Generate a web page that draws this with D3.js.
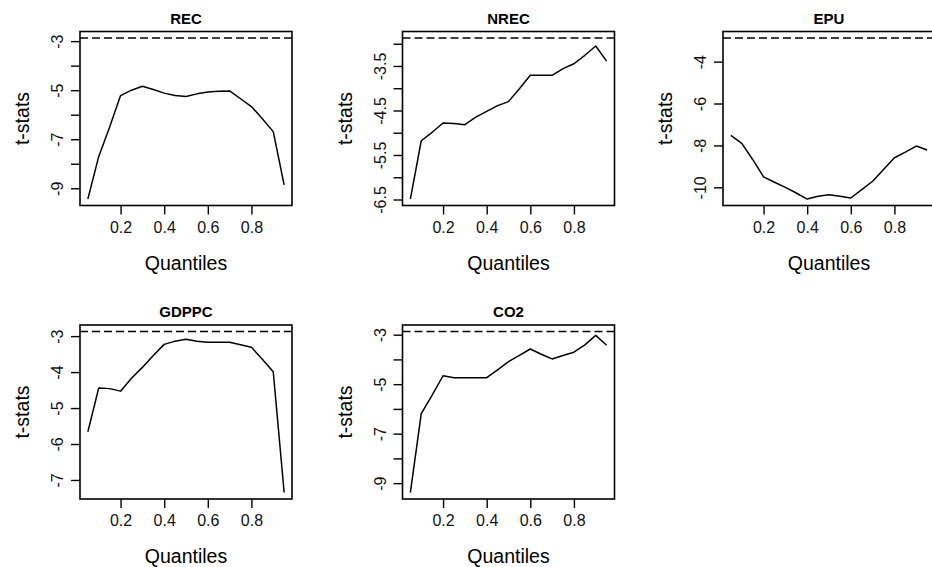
<!DOCTYPE html>
<html>
<head>
<meta charset="utf-8">
<script src="https://cdn.jsdelivr.net/npm/d3@7"></script>
<style>
  body { margin: 0; background: #ffffff; }
  svg { display: block; }
</style>
</head>
<body>
<div id="chart"></div>
<script>
// data

const quantiles = [0.05, 0.1, 0.15, 0.2, 0.25, 0.3, 0.35, 0.4, 0.45, 0.5,
  0.55, 0.6, 0.65, 0.7, 0.75, 0.8, 0.85, 0.9, 0.95];

const recStats = [-9.44, -7.7, -6.5, -5.22, -5.0, -4.84, -4.97, -5.12, -5.22, -5.26,
  -5.15, -5.07, -5.04, -5.03, -5.35, -5.67, -6.17, -6.69, -8.86];
const nrecStats = [-6.49, -5.18, -4.99, -4.78, -4.79, -4.82, -4.65, -4.52, -4.39, -4.3,
  -4.01, -3.71, -3.71, -3.71, -3.56, -3.45, -3.26, -3.05, -3.39];
const epuStats = [-7.52, -7.9, -8.67, -9.5, -9.76, -10.0, -10.27, -10.56, -10.43, -10.35,
  -10.43, -10.51, -10.11, -9.71, -9.15, -8.59, -8.32, -8.03, -8.22];
const gdppcStats = [-5.66, -4.44, -4.46, -4.53, -4.17, -3.87, -3.54, -3.23, -3.14, -3.09,
  -3.14, -3.17, -3.17, -3.17, -3.24, -3.31, -3.64, -3.99, -7.35];
const co2Stats = [-9.38, -6.19, -5.44, -4.66, -4.74, -4.74, -4.74, -4.74, -4.42, -4.09,
  -3.84, -3.58, -3.79, -3.98, -3.84, -3.71, -3.41, -3.03, -3.43];

const critValue = -2.87;

const panelNames = ["REC", "NREC", "EPU", "GDPPC", "CO2"];

const xTicks = [0.2, 0.4, 0.6, 0.8];
const recTicks = [-9, -8, -7, -6, -5, -4, -3];
const recLabels = [-9, -7, -5, -3];
const nrecTicks = [-6.5, -6, -5.5, -5, -4.5, -4, -3.5, -3];
const nrecLabels = [-6.5, -5.5, -4.5, -3.5];
const epuTicks = [-10, -8, -6, -4];
const epuLabels = [-10, -8, -6, -4];
const gdppcTicks = [-7, -6, -5, -4, -3];
const gdppcLabels = [-7, -6, -5, -4, -3];
const co2Ticks = [-9, -8, -7, -6, -5, -4, -3];
const co2Labels = [-9, -7, -5, -3];

// config

const width = 932;
const height = 567;
const boxW = 212;
const boxH = 174;
const colLeft = [80, 402.5, 723];
const rowTop = [31.5, 325];
const font = "'Liberation Sans', Arial, sans-serif";

const panels = [
  { name: panelNames[0], values: recStats, ticks: recTicks, labels: recLabels, col: 0, row: 0 },
  { name: panelNames[1], values: nrecStats, ticks: nrecTicks, labels: nrecLabels, col: 1, row: 0 },
  { name: panelNames[2], values: epuStats, ticks: epuTicks, labels: epuLabels, col: 2, row: 0 },
  { name: panelNames[3], values: gdppcStats, ticks: gdppcTicks, labels: gdppcLabels, col: 0, row: 1 },
  { name: panelNames[4], values: co2Stats, ticks: co2Ticks, labels: co2Labels, col: 1, row: 1 }
];

const svg = d3.select("#chart")
  .append("svg")
  .attr("width", width)
  .attr("height", height);

// R style 4% padding on both axes
function padded(lo, hi) {
  const r = hi - lo;
  return [lo - 0.04 * r, hi + 0.04 * r];
}

panels.forEach(p => {
  const left = colLeft[p.col];
  const top = rowTop[p.row];

  const xScale = d3.scaleLinear()
    .domain(padded(d3.min(quantiles), d3.max(quantiles)))
    .range([left, left + boxW]);

  const yMin = Math.min(d3.min(p.values), critValue);
  const yMax = Math.max(d3.max(p.values), critValue);
  const yScale = d3.scaleLinear()
    .domain(padded(yMin, yMax))
    .range([top + boxH, top]);

  const g = svg.append("g");

  // x axis
  g.append("g")
    .attr("transform", "translate(0, " + (top + boxH) + ")")
    .call(d3.axisBottom(xScale).tickValues(xTicks).tickSize(9).tickPadding(7)
      .tickFormat(d3.format(".1f")))
    .call(a => a.select(".domain").remove())
    .call(a => a.selectAll(".tick line").attr("stroke", "#000").attr("stroke-width", 1.4))
    .call(a => a.selectAll(".tick text")
      .attr("fill", "#111")
      .style("font-family", font)
      .style("font-size", "16px"));

  // y axis: ticks everywhere, labels only where R kept them
  g.append("g")
    .attr("transform", "translate(" + left + ", 0)")
    .call(d3.axisLeft(yScale).tickValues(p.ticks).tickSize(9)
      .tickFormat(d => p.labels.includes(d) ? String(d) : ""))
    .call(a => a.select(".domain").remove())
    .call(a => a.selectAll(".tick line").attr("stroke", "#000").attr("stroke-width", 1.4))
    .call(a => a.selectAll(".tick text")
      .attr("fill", "#111")
      .attr("x", null)
      .attr("dy", null)
      .attr("transform", "translate(-17, 0) rotate(-90)")
      .attr("text-anchor", "middle")
      .style("font-family", font)
      .style("font-size", "16px"));

  // critical value
  g.append("line")
    .attr("x1", left)
    .attr("x2", left + boxW)
    .attr("y1", yScale(critValue))
    .attr("y2", yScale(critValue))
    .attr("stroke", "#000")
    .attr("stroke-width", 1.4)
    .attr("stroke-dasharray", "8,4");

  // t-stat line
  const line = d3.line()
    .x((d, i) => xScale(quantiles[i]))
    .y(d => yScale(d));

  g.append("path")
    .attr("d", line(p.values))
    .attr("fill", "none")
    .attr("stroke", "#000")
    .attr("stroke-width", 1.5)
    .attr("stroke-linejoin", "round");

  // box
  g.append("rect")
    .attr("x", left)
    .attr("y", top)
    .attr("width", boxW)
    .attr("height", boxH)
    .attr("fill", "none")
    .attr("stroke", "#000")
    .attr("stroke-width", 1.6);

  // title
  g.append("text")
    .attr("x", left + boxW / 2)
    .attr("y", top - 8)
    .attr("text-anchor", "middle")
    .style("font-family", font)
    .style("font-size", "15px")
    .style("font-weight", "bold")
    .style("fill", "#000")
    .text(p.name);

  // axis labels
  g.append("text")
    .attr("x", left + boxW / 2)
    .attr("y", top + boxH + 64)
    .attr("text-anchor", "middle")
    .style("font-family", font)
    .style("font-size", "19.5px")
    .style("fill", "#000")
    .text("Quantiles");

  g.append("text")
    .attr("transform", "translate(" + (left - 51) + ", " + (top + boxH / 2) + ") rotate(-90)")
    .attr("text-anchor", "middle")
    .style("font-family", font)
    .style("font-size", "19.5px")
    .style("fill", "#000")
    .text("t-stats");
});
</script>
</body>
</html>
